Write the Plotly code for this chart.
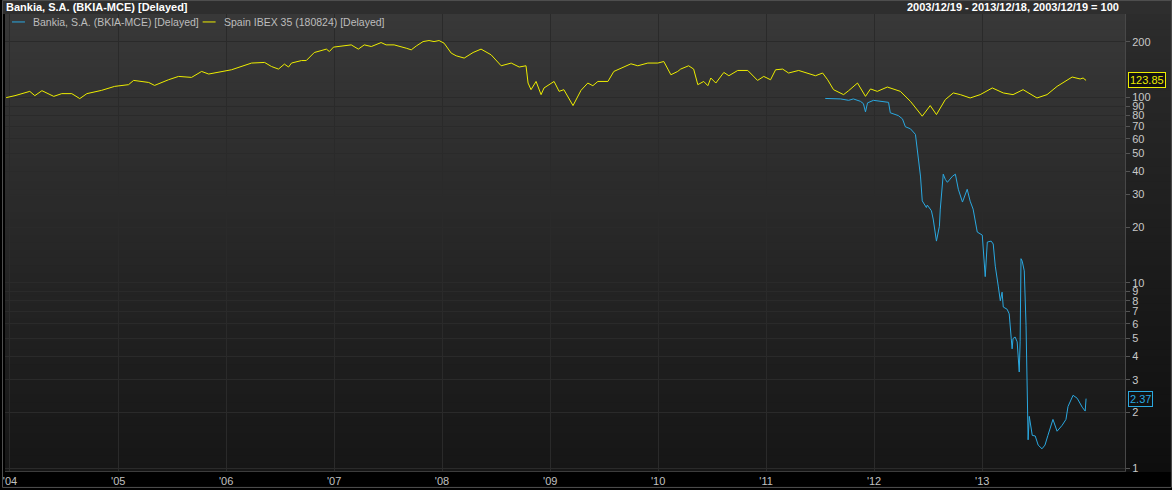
import math
from datetime import datetime, timedelta
import plotly.graph_objects as go

# ---------------- data ----------------
ibex_dates = [
    "2003-12-19", "2004-01-18", "2004-03-08", "2004-03-25", "2004-04-18", "2004-05-28",
    "2004-06-24", "2004-07-28", "2004-08-24", "2004-09-17", "2004-11-06", "2004-12-20",
    "2005-02-05", "2005-02-22", "2005-04-14", "2005-05-04", "2005-06-20", "2005-07-24",
    "2005-09-06", "2005-10-10", "2005-11-03", "2006-01-19", "2006-03-28", "2006-05-11",
    "2006-06-03", "2006-06-27", "2006-07-17", "2006-07-31", "2006-08-10", "2006-09-13",
    "2006-09-29", "2006-10-26", "2006-12-06", "2006-12-16", "2006-12-30", "2007-02-28",
    "2007-03-24", "2007-04-13", "2007-05-07", "2007-06-09", "2007-06-26", "2007-07-23",
    "2007-09-02", "2007-09-19", "2007-10-06", "2007-10-29", "2007-11-18", "2007-12-05",
    "2007-12-22", "2008-01-08", "2008-02-01", "2008-02-18", "2008-03-16", "2008-04-15",
    "2008-05-12", "2008-06-15", "2008-07-19", "2008-08-22", "2008-09-18", "2008-10-11",
    "2008-10-18", "2008-10-28", "2008-11-14", "2008-12-01", "2008-12-11", "2009-01-14",
    "2009-01-31", "2009-02-16", "2009-03-19", "2009-04-15", "2009-05-08", "2009-05-25",
    "2009-06-11", "2009-07-15", "2009-08-04", "2009-08-28", "2009-10-01", "2009-10-24",
    "2009-11-27", "2009-12-31", "2010-01-20", "2010-02-13", "2010-03-08", "2010-03-18",
    "2010-04-14", "2010-05-01", "2010-05-15", "2010-06-04", "2010-06-18", "2010-06-28",
    "2010-07-15", "2010-08-11", "2010-08-28", "2010-09-27", "2010-10-31", "2010-12-03",
    "2010-12-24", "2011-01-16", "2011-02-02", "2011-02-26", "2011-03-18", "2011-04-21",
    "2011-05-21", "2011-06-17", "2011-07-11", "2011-07-28", "2011-08-17", "2011-09-20",
    "2011-10-07", "2011-11-06", "2011-12-03", "2011-12-20", "2012-01-12", "2012-02-15",
    "2012-03-30", "2012-05-03", "2012-06-12", "2012-07-09", "2012-07-30", "2012-08-29",
    "2012-09-25", "2012-10-19", "2012-11-21", "2012-12-25", "2013-02-04", "2013-03-13",
    "2013-04-15", "2013-05-19", "2013-07-05", "2013-08-08", "2013-09-11", "2013-10-01",
    "2013-11-01", "2013-11-28", "2013-12-08", "2013-12-18",
]
ibex_values = [
    100, 102.5, 108.1, 102.5, 109, 101.6,
    105.1, 105.1, 98.8, 105.1, 109.5, 115,
    117.5, 123.9, 120.8, 116.4, 124.9, 130.2,
    128.6, 138.5, 134.1, 141.4, 153.7, 154.9,
    147.3, 142.6, 151.7, 146.3, 153.7, 158.6,
    158.6, 175.2, 182.8, 177.4, 187.4, 192.7,
    182.8, 192.7, 188.8, 198.3, 192.7, 192.7,
    184.9, 181.2, 190.1, 200.8, 203.3, 200.8,
    203.3, 196.8, 174, 168.2, 163.5, 175.2,
    182.8, 170.3, 148.6, 153.7, 146.3, 148.6,
    119.9, 110.4, 122.3, 103.8, 112.8, 122.3,
    108.1, 110.4, 90.6, 109.5, 119.9, 116,
    122.3, 122.3, 138.5, 144.4, 152.3, 148.6,
    153.7, 153.7, 156.7, 132.9, 138.5, 142.6,
    148.6, 142.6, 117.5, 122.3, 116, 127.6,
    119.9, 136.8, 131.3, 140.2, 140.2, 123.9,
    130.2, 124.9, 141.4, 142.6, 135.8, 140.2,
    135.8, 131.3, 135.8, 124.9, 110.4, 103.8,
    109, 119.9, 101.6, 111.4, 108.1, 114.1,
    108.1, 95.5, 79.4, 90.6, 81, 97.6,
    106, 103.8, 99.6, 103.8, 112.8, 106,
    103.8, 110.4, 99.6, 103.8, 115, 119.9,
    129.2, 126.1, 127.6, 123.85,
]

bankia_dates = [
    "2011-07-20", "2011-09-10", "2011-10-07", "2011-10-23", "2011-11-16", "2011-11-26",
    "2011-12-03", "2011-12-10", "2011-12-30", "2012-01-23", "2012-02-19", "2012-02-25",
    "2012-03-23", "2012-04-06", "2012-04-16", "2012-05-03", "2012-05-20", "2012-06-06",
    "2012-06-12", "2012-06-26", "2012-06-29", "2012-07-13", "2012-07-19", "2012-07-30",
    "2012-08-09", "2012-08-12", "2012-08-22", "2012-08-29", "2012-09-05", "2012-09-22",
    "2012-10-02", "2012-10-12", "2012-10-26", "2012-11-11", "2012-11-21", "2012-12-01",
    "2012-12-15", "2013-01-01", "2013-01-08", "2013-01-11", "2013-01-18", "2013-01-31",
    "2013-02-07", "2013-02-14", "2013-02-24", "2013-03-03", "2013-03-09", "2013-03-13",
    "2013-03-26", "2013-04-02", "2013-04-09", "2013-04-12", "2013-04-15", "2013-04-22",
    "2013-04-29", "2013-05-02", "2013-05-06", "2013-05-09", "2013-05-12", "2013-05-16",
    "2013-05-23", "2013-05-29", "2013-06-02", "2013-06-05", "2013-06-09", "2013-06-19",
    "2013-06-29", "2013-07-09", "2013-07-22", "2013-08-01", "2013-08-11", "2013-08-28",
    "2013-09-11", "2013-09-28", "2013-10-11", "2013-10-18", "2013-11-04", "2013-11-18",
    "2013-12-05", "2013-12-15", "2013-12-18",
]
bankia_values = [
    99, 98.4, 96.7, 98.4, 95.5, 92.8,
    83.8, 93.7, 96.7, 95.2, 94.3, 82.8,
    80.0, 76.8, 69.6, 67.9, 63.3, 37.7,
    27.7, 25.5, 26.3, 24.5, 22.1, 16.8,
    20.2, 25, 38.6, 36.2, 34.9, 37.6,
    38.6, 32, 27.3, 32, 27.6, 25,
    18.8, 18.1, 12.3, 10.8, 16.6, 16.8,
    16.2, 12.3, 9.6, 8.0, 8.9, 7.4,
    7.2, 6.8, 5.0, 4.4, 5.0, 5.1,
    4.8, 3.8, 3.3, 4.8, 13.5, 13.1,
    11.6, 5.9, 2.29, 1.42, 1.90, 1.50,
    1.49, 1.33, 1.27, 1.33, 1.50, 1.83,
    1.58, 1.70, 1.83, 2.15, 2.47, 2.38,
    2.13, 2.03, 2.37,
]

year_ticks = ["2004-01-01", "2005-01-01", "2006-01-01", "2007-01-01", "2008-01-01",
              "2009-01-01", "2010-01-01", "2011-01-01", "2012-01-01", "2013-01-01"]
year_labels = ["'04", "'05", "'06", "'07", "'08", "'09", "'10", "'11", "'12", "'13"]
y_ticks = [1, 2, 3, 4, 5, 6, 7, 8, 9, 10, 20, 30, 40, 50, 60, 70, 80, 90, 100, 200]
y_labels = [str(v) for v in y_ticks]

title_left = "Bankia, S.A. (BKIA-MCE) [Delayed]"
title_right = "2003/12/19 - 2013/12/18, 2003/12/19 = 100"
name_bankia = "Bankia, S.A. (BKIA-MCE) [Delayed]"
name_ibex = "Spain IBEX 35 (180824) [Delayed]"

# ---------------- layout geometry ----------------
W, H = 1172, 490
L, R, T, B = 3, 47, 14, 17
PW, PH = W - L - R, H - T - B

YEL = "#eded00"
BLUE = "#2aa8e0"
FONT = "Liberation Sans, Arial, sans-serif"


def px(x):
    return (x - L) / PW


def py(y):
    return (H - B - y) / PH


px_per_day = 108.2 / 365.25
ref = datetime(2004, 1, 1)
x_start = ref - timedelta(days=(8 - L) / px_per_day)
x_end = ref + timedelta(days=(W - R - 8) / px_per_day)

# log range: 100 at y=98, 186 px per decade
y_top = 2 + (98 - T) / 186.0
y_bot = 2 - (H - B - 98) / 186.0


def hexc(c):
    return tuple(int(c[i:i + 2], 16) for i in (1, 3, 5))


def lerp(c1, c2, t):
    a, b = hexc(c1), hexc(c2)
    return "rgb(%d,%d,%d)" % tuple(round(a[i] + (b[i] - a[i]) * t) for i in range(3))


shapes = []
N = 60
for i in range(N):
    t = i / (N - 1)
    y1 = 1 - i / N
    y0 = 1 - (i + 1) / N
    shapes.append(dict(type="rect", xref="paper", yref="paper", x0=0, x1=1,
                       y0=y0 - 0.002, y1=y1, fillcolor=lerp("#383838", "#161616", t),
                       line=dict(width=0), layer="below"))
    shapes.append(dict(type="rect", xref="paper", yref="paper", x0=1, x1=1 + R / PW,
                       y0=y0 - 0.002, y1=y1, fillcolor=lerp("#2c2c2c", "#0e0e0e", t),
                       line=dict(width=0), layer="below"))
# title bar
shapes.append(dict(type="rect", xref="paper", yref="paper", x0=px(0), x1=px(W),
                   y0=1, y1=py(0), fillcolor="#2e2e2e", line=dict(width=0), layer="below"))
# frame
shapes.append(dict(type="rect", xref="paper", yref="paper", x0=px(0.5), x1=px(W - 0.5),
                   y0=py(H - 0.5), y1=py(0.5), line=dict(color="#505050", width=1),
                   layer="above"))
# legend swatches
shapes.append(dict(type="line", xref="paper", yref="paper", x0=px(10), x1=px(23),
                   y0=py(22), y1=py(22), line=dict(color=BLUE, width=1), layer="above"))
shapes.append(dict(type="line", xref="paper", yref="paper", x0=px(201), x1=px(214),
                   y0=py(22), y1=py(22), line=dict(color=YEL, width=1), layer="above"))

annotations = [
    dict(text="<b>%s</b>" % title_left, xref="paper", yref="paper", x=px(3), y=py(7),
         xanchor="left", yanchor="middle", showarrow=False, borderpad=0,
         font=dict(family=FONT, size=11, color="#ffffff")),
    dict(text="<b>%s</b>" % title_right, xref="paper", yref="paper", x=px(1120), y=py(7),
         xanchor="right", yanchor="middle", showarrow=False, borderpad=0,
         font=dict(family=FONT, size=11, color="#ffffff")),
    dict(text=name_bankia, xref="paper", yref="paper", x=px(30), y=py(22),
         xanchor="left", yanchor="middle", showarrow=False, borderpad=0,
         font=dict(family=FONT, size=10.5, color="#bdbdbd")),
    dict(text=name_ibex, xref="paper", yref="paper", x=px(221), y=py(22),
         xanchor="left", yanchor="middle", showarrow=False, borderpad=0,
         font=dict(family=FONT, size=10.5, color="#bdbdbd")),
    dict(text="%.2f" % ibex_values[-1], xref="paper", yref="y", x=px(1128),
         y=math.log10(ibex_values[-1]), xanchor="left", yanchor="middle",
         showarrow=False, bordercolor=YEL, borderwidth=1, borderpad=1, bgcolor="#111111",
         font=dict(family=FONT, size=11, color=YEL)),
    dict(text="%.2f" % bankia_values[-1], xref="paper", yref="y", x=px(1128),
         y=math.log10(bankia_values[-1]), xanchor="left", yanchor="middle",
         showarrow=False, bordercolor=BLUE, borderwidth=1, borderpad=1, bgcolor="#111111",
         font=dict(family=FONT, size=11, color=BLUE)),
]

fig = go.Figure()
fig.add_trace(go.Scatter(x=ibex_dates, y=ibex_values, mode="lines", name=name_ibex,
                         line=dict(color=YEL, width=1), showlegend=False))
fig.add_trace(go.Scatter(x=bankia_dates, y=bankia_values, mode="lines", name=name_bankia,
                         line=dict(color=BLUE, width=1), showlegend=False))

fig.update_layout(
    width=W, height=H,
    margin=dict(l=L, r=R, t=T, b=B, pad=0),
    paper_bgcolor="#000000",
    plot_bgcolor="rgba(0,0,0,0)",
    font=dict(family=FONT, size=11, color="#c8c8c8"),
    showlegend=False,
    shapes=shapes,
    annotations=annotations,
    xaxis=dict(
        type="date", range=[x_start, x_end],
        tickmode="array", tickvals=year_ticks, ticktext=year_labels,
        showgrid=True, gridcolor="#2a2a2a", gridwidth=1,
        showline=True, linecolor="#3c3c3c", linewidth=1,
        ticks="", tickfont=dict(family=FONT, size=11, color="#c0c0c0"),
        zeroline=False, fixedrange=True,
    ),
    yaxis=dict(
        type="log", side="right", range=[y_bot, y_top],
        tickmode="array", tickvals=y_ticks, ticktext=y_labels,
        showgrid=True, gridcolor="#2a2a2a", gridwidth=1,
        showline=True, linecolor="#484848", linewidth=1,
        ticks="outside", ticklen=4, tickcolor="#555555",
        tickfont=dict(family=FONT, size=11, color="#c8c8c8"),
        zeroline=False, fixedrange=True,
    ),
)

fig.write_html(
    "out.html",
    config={"displayModeBar": False, "staticPlot": True},
    post_script="document.body.style.margin='0';document.body.style.padding='0';"
                "document.body.style.overflow='hidden';document.body.style.background='#000';",
)
